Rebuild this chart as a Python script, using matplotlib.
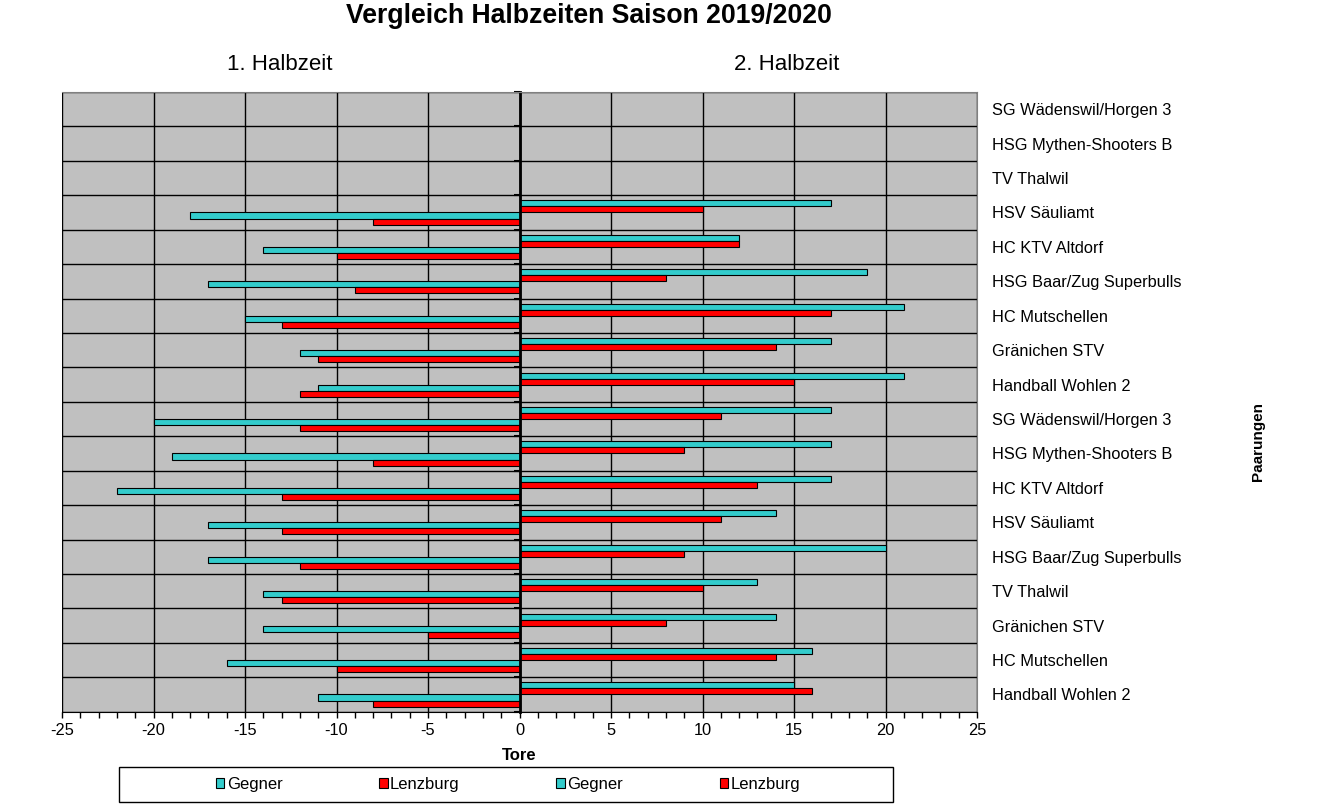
import numpy as np
import matplotlib
matplotlib.use("Agg")
import matplotlib.pyplot as plt
from matplotlib.patches import Rectangle
from matplotlib.ticker import MultipleLocator, FixedLocator

plt.rcParams['font.family'] = ['Liberation Sans', 'DejaVu Sans']
plt.rcParams['axes.unicode_minus'] = False

# categories from top to bottom as shown in the chart
categories = ["SG Wädenswil/Horgen 3", "HSG Mythen-Shooters B", "TV Thalwil",
              "HSV Säuliamt", "HC KTV Altdorf", "HSG Baar/Zug Superbulls",
              "HC Mutschellen", "Gränichen STV", "Handball Wohlen 2",
              "SG Wädenswil/Horgen 3", "HSG Mythen-Shooters B", "HC KTV Altdorf",
              "HSV Säuliamt", "HSG Baar/Zug Superbulls", "TV Thalwil",
              "Gränichen STV", "HC Mutschellen", "Handball Wohlen 2"]

# goals in the 1st half (drawn to the left)
h1_gegner = [0, 0, 0, 18, 14, 17, 15, 12, 11, 20, 19, 22, 17, 17, 14, 14, 16, 11]
h1_lenzburg = [0, 0, 0, 8, 10, 9, 13, 11, 12, 12, 8, 13, 13, 12, 13, 5, 10, 8]
# goals in the 2nd half (drawn to the right)
h2_gegner = [0, 0, 0, 17, 12, 19, 21, 17, 21, 17, 17, 17, 14, 20, 13, 14, 16, 15]
h2_lenzburg = [0, 0, 0, 10, 12, 8, 17, 14, 15, 11, 9, 13, 11, 9, 10, 8, 14, 16]

CYAN = '#33CCCC'
RED = '#FF0000'

n = len(categories)
pos = np.arange(n)[::-1]  # first category at the top
bh = 0.175

fig = plt.figure(figsize=(13.33, 8.11), dpi=100)
ax = fig.add_axes([62 / 1333, 1 - 711.7 / 811, (977 - 62) / 1333, (711.7 - 92) / 811])
ax.set_facecolor('#C0C0C0')

kw = dict(height=bh, edgecolor='black', linewidth=0.8)
b1 = ax.barh(pos - 0.5 * bh, -np.array(h1_gegner), color=CYAN, label='Gegner', **kw)
b2 = ax.barh(pos - 1.5 * bh, -np.array(h1_lenzburg), color=RED, label='Lenzburg', **kw)
b3 = ax.barh(pos + 1.5 * bh, h2_gegner, color=CYAN, label='Gegner', **kw)
b4 = ax.barh(pos + 0.5 * bh, h2_lenzburg, color=RED, label='Lenzburg', **kw)

ax.set_xlim(-25, 25)
ax.set_ylim(-0.5, n - 0.5)
ax.set_axisbelow(True)

# x axis
ax.xaxis.set_major_locator(MultipleLocator(5))
ax.xaxis.set_minor_locator(MultipleLocator(1))
ax.tick_params(axis='x', which='both', direction='out', length=4, width=1, colors='black',
               labelsize=11.8, pad=4)
ax.grid(axis='x', which='major', color='black', linewidth=1)

# y axis: spine through zero, labels on the right
ax.spines['left'].set_position(('data', 0))
ax.spines['left'].set_linewidth(2)
ax.spines['left'].set_color('black')
ax.spines['bottom'].set_color('black')
for s in ('top', 'right'):
    ax.spines[s].set_color('#808080')
ax.set_yticks(pos)
ax.set_yticklabels(categories)
ax.yaxis.set_minor_locator(FixedLocator(np.arange(n + 1) - 0.5))
ax.tick_params(axis='y', which='major', left=False, right=False, labelleft=False,
               labelright=True, labelsize=11.8, pad=7.5)
ax.tick_params(axis='y', which='minor', left=True, right=False, direction='out',
               length=4, width=1.5)
ax.grid(axis='y', which='minor', color='black', linewidth=1)

# texts
fig.text(589 / 1333, 1 - 16 / 811, 'Vergleich Halbzeiten Saison 2019/2020',
         ha='center', va='center', fontsize=19.2, fontweight='bold')
fig.text(280 / 1333, 1 - 65 / 811, '1. Halbzeit', ha='center', va='center', fontsize=16)
fig.text(787 / 1333, 1 - 65 / 811, '2. Halbzeit', ha='center', va='center', fontsize=16)
fig.text(519 / 1333, 1 - 756 / 811, 'Tore', ha='center', va='center', fontsize=12,
         fontweight='bold')
fig.text(1258 / 1333, 1 - 442 / 811, 'Paarungen', ha='center', va='center', fontsize=11,
         fontweight='bold', rotation=90)

# legend with its box
fig.patches.append(Rectangle((119 / 1333, 1 - 802 / 811), (893 - 119) / 1333, 35 / 811,
                             transform=fig.transFigure, facecolor='white',
                             edgecolor='black', linewidth=1))
fig.legend(handles=[b1, b2, b3, b4], loc='center', bbox_to_anchor=(508 / 1333, 1 - 784.5 / 811),
           ncol=4, frameon=False, fontsize=12, handlelength=0.5, handleheight=0.5,
           handletextpad=0.15, columnspacing=5.8)

fig.savefig('out.png', dpi=100)
